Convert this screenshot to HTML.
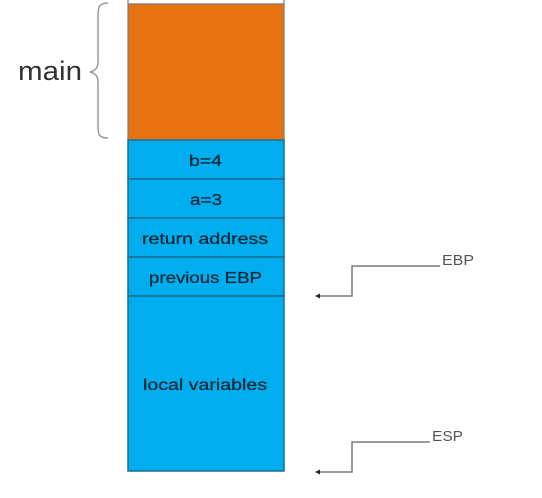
<!DOCTYPE html>
<html><head><meta charset="utf-8"><style>
html,body{margin:0;padding:0;background:#fff;}
svg{display:block;font-family:"Liberation Sans",sans-serif;}
</style></head><body>
<svg width="542" height="498" viewBox="0 0 542 498">
  <rect x="128" y="-2" width="156" height="6" fill="#fff" stroke="#7a7a7a" stroke-width="1.2"/>
  <rect x="128" y="4" width="156" height="136" fill="#e8720f" stroke="#7a7a7a" stroke-width="1.2"/>
  <g fill="#00aeef" stroke="#1b6f93" stroke-width="1.5">
    <rect x="128" y="140" width="156" height="39"/>
    <rect x="128" y="179" width="156" height="39"/>
    <rect x="128" y="218" width="156" height="39"/>
    <rect x="128" y="257" width="156" height="39"/>
    <rect x="128" y="296" width="156" height="175"/>
  </g>
  <g fill="#0c2a38" font-size="16" stroke="#0c2a38" stroke-width="0.3" lengthAdjust="spacingAndGlyphs">
    <text x="189" y="166" textLength="33" lengthAdjust="spacingAndGlyphs">b=4</text>
    <text x="190" y="205" textLength="32" lengthAdjust="spacingAndGlyphs">a=3</text>
    <text x="142" y="244" textLength="126" lengthAdjust="spacingAndGlyphs">return address</text>
    <text x="149" y="283" textLength="113" lengthAdjust="spacingAndGlyphs">previous EBP</text>
    <text x="143" y="390" textLength="124" lengthAdjust="spacingAndGlyphs">local variables</text>
  </g>
  <text x="18" y="80" font-size="27" fill="#333" textLength="64" lengthAdjust="spacingAndGlyphs">main</text>
  <path d="M108,3 C98,3 98,8 98,18 L98,62 C98,68 95,71 90,72 C95,73 98,76 98,82 L98,124 C98,134 98,138 108,138" fill="none" stroke="#9a9a9a" stroke-width="1.5"/>
  <g fill="none" stroke="#7a7a7a" stroke-width="1.5">
    <polyline points="440,266 352,266 352,296 318,296"/>
    <polyline points="430,442 352,442 352,472 318,472"/>
  </g>
  <polygon points="315,296 320,293.5 320,298.5" fill="#222"/>
  <polygon points="315,472 320,469.5 320,474.5" fill="#222"/>
  <g fill="#555" font-size="15">
    <text x="442" y="265" textLength="32" lengthAdjust="spacingAndGlyphs">EBP</text>
    <text x="432" y="441" textLength="31" lengthAdjust="spacingAndGlyphs">ESP</text>
  </g>
</svg>
</body></html>
